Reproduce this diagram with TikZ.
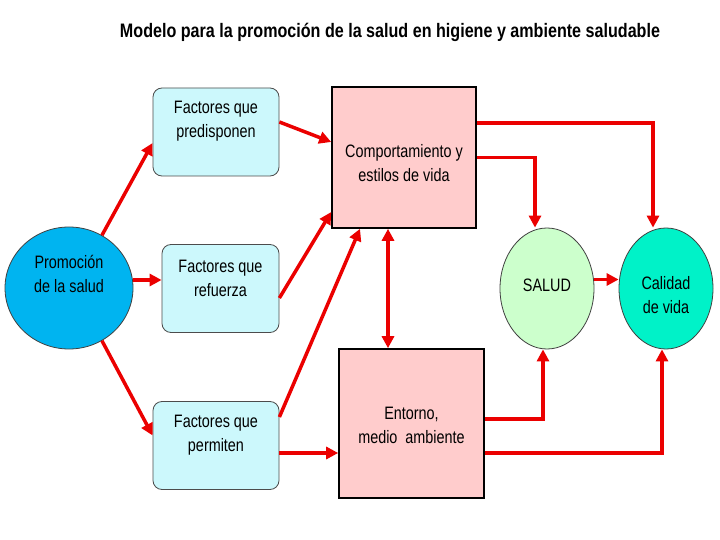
\documentclass[tikz,border=0pt]{standalone}
\usepackage{fontspec}
\setmainfont{Liberation Sans}
\usetikzlibrary{arrows.meta,shapes.geometric}
\definecolor{promoC}{RGB}{0,180,240}
\definecolor{factC}{RGB}{204,248,252}
\definecolor{pinkC}{RGB}{255,204,204}
\definecolor{saludC}{RGB}{204,255,204}
\definecolor{calC}{RGB}{0,242,200}
\definecolor{arrC}{RGB}{235,0,0}
\newcommand\nl[1]{\scalebox{0.8}[1]{#1}}
\tikzset{
  factbox/.style={draw=black!70, line width=0.8pt, fill=factC, rounded corners=9pt, minimum width=126pt, minimum height=88pt, inner sep=0pt},
  pinkbox/.style={draw=black, line width=1.6pt, fill=pinkC, minimum width=144pt, minimum height=141pt, inner sep=0pt},
  oval/.style={draw=black!75, line width=0.8pt, ellipse, inner sep=0pt},
  txt/.style={align=center, font=\fontsize{18}{24}\selectfont, inner sep=0pt},
  arr/.style={draw=arrC, line width=3.5pt, -{Triangle[length=12pt,width=12pt]}},
  darr/.style={draw=arrC, line width=3.5pt, {Triangle[length=12pt,width=12pt]}-{Triangle[length=12pt,width=12pt]}}
}
\begin{document}
\begin{tikzpicture}[x=1pt,y=-1pt]
\useasboundingbox[fill=white] (0,0) rectangle (720,540);
% title
\node[inner sep=0pt] (title) at (390,32) {\resizebox{540pt}{\height}{\fontsize{19.5}{20}\selectfont\bfseries Modelo para la promoción de la salud en higiene y ambiente saludable}};
% shapes
\node[oval, fill=promoC, minimum width=128pt, minimum height=122pt] (promo) at (69,288) {};
\node[factbox] (pred) at (216,132) {};
\node[factbox, minimum width=117pt] (ref) at (220.5,288.5) {};
\node[factbox] (perm) at (216,445.5) {};
\node[pinkbox] (comp) at (404,157.5) {};
\node[pinkbox, minimum width=145pt, minimum height=149pt] (ent) at (411.5,423.5) {};
\node[oval, fill=saludC, minimum width=94pt, minimum height=121pt] (salud) at (547,288.5) {};
\node[oval, fill=calC, minimum width=94pt, minimum height=121pt] (cal) at (666,288.5) {};
% texts
\node[txt] (promoT) at ([yshift=14.5pt]promo.center) {\nl{Promoción}\\\nl{de la salud}};
\node[txt] (predT) at ([yshift=10.5pt]pred.center) {\nl{Factores que}\\\nl{predisponen}};
\node[txt] (refT) at ([yshift=10.5pt]ref.center) {\nl{Factores que}\\\nl{refuerza}};
\node[txt] (permT) at ([yshift=10.5pt]perm.center) {\nl{Factores que}\\\nl{permiten}};
\node[txt] (compT) at ([yshift=-6pt]comp.center) {\nl{Comportamiento y}\\\nl{estilos de vida}};
\node[txt] (entT) at ([yshift=-1.5pt]ent.center) {\nl{Entorno,}\\\nl{medio\ \ ambiente}};
\node[txt] (saludT) at ([yshift=3pt]salud.center) {\nl{SALUD}};
\node[txt] (calT) at ([yshift=-7pt]cal.center) {\nl{Calidad}\\\nl{de vida}};
% connectors
\draw[arr] (promo.58) -- ([yshift=-11pt]pred.west);
\draw[arr] ([yshift=8pt]promo.east) -- ([yshift=8pt]promo.east -| ref.west);
\draw[arr] (promo.-58) -- ([yshift=10pt]perm.west);
\draw[arr] ([yshift=10pt]pred.east) -- ([yshift=15.5pt]comp.west);
\draw[arr] ([yshift=-9.5pt]ref.east) -- ([yshift=-54.5pt]comp.west);
\draw[arr] ([yshift=28.5pt]perm.east) -- ([xshift=-44pt]comp.south);
\draw[arr] ([yshift=-7.5pt]perm.east) -- ([yshift=-7.5pt]perm.east -| ent.west);
\draw[darr] ([xshift=-16pt]comp.south) -- ([xshift=-16pt]comp.south |- ent.north);
\draw[arr] (comp.east) -| ([xshift=-12pt]salud.north);
\draw[arr] ([yshift=34.5pt]comp.east) -| ([xshift=-13pt]cal.north);
\draw[arr] ([yshift=4.5pt]ent.east) -| ([xshift=-4pt]salud.south);
\draw[arr] ([yshift=-29.5pt]ent.east) -| ([xshift=-4pt]cal.south);
\draw[arr] ([yshift=9pt]salud.east) -- ([yshift=9pt]salud.east -| cal.west);
\end{tikzpicture}
\end{document}
